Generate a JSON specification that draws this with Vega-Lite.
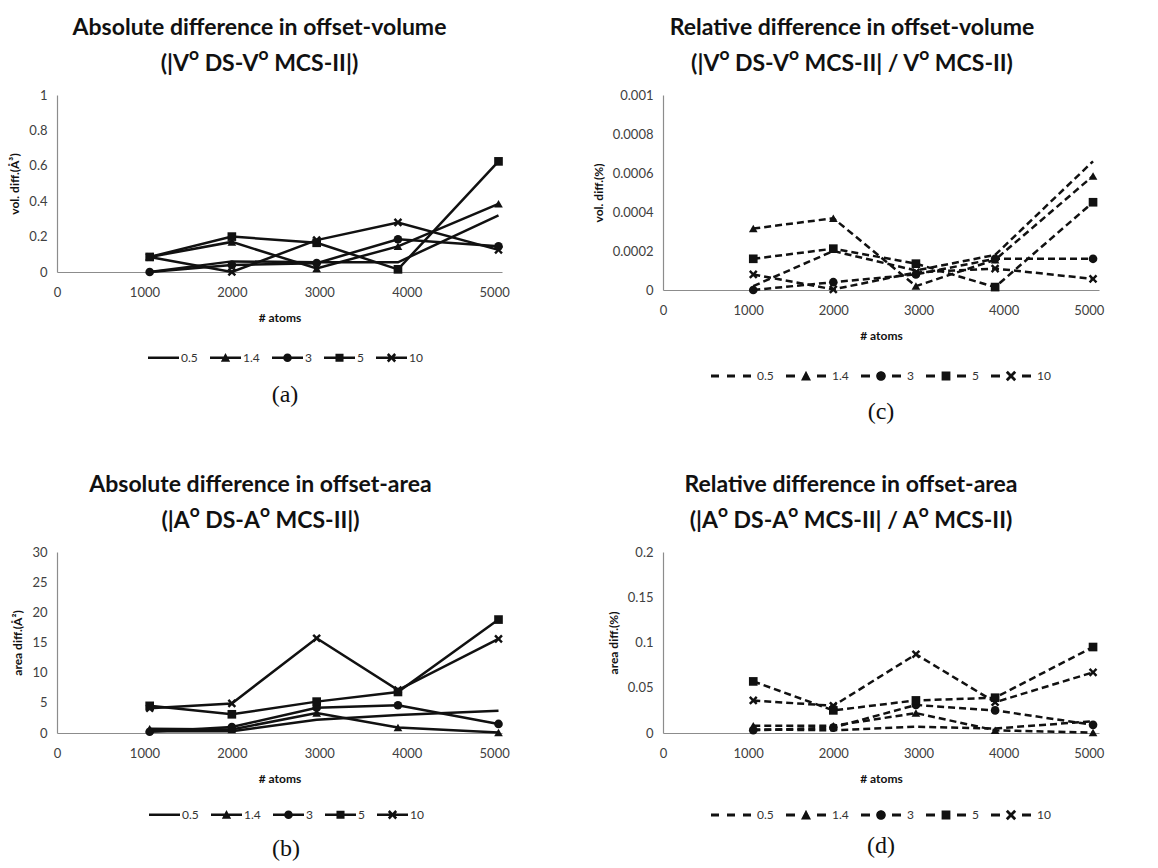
{
  "$schema": "https://vega.github.io/schema/vega-lite/v6.json",
  "padding": {"left": 8, "top": 17, "right": 5, "bottom": 5},
  "background": "white",
  "datasets": {
    "a": [
      {"n": 1060, "s": "0.5", "v": 0.0}, {"n": 2000, "s": "0.5", "v": 0.06}, {"n": 2970, "s": "0.5", "v": 0.055}, {"n": 3900, "s": "0.5", "v": 0.055}, {"n": 5050, "s": "0.5", "v": 0.32},
      {"n": 1060, "s": "1.4", "v": 0.085}, {"n": 2000, "s": "1.4", "v": 0.17}, {"n": 2970, "s": "1.4", "v": 0.02}, {"n": 3900, "s": "1.4", "v": 0.145}, {"n": 5050, "s": "1.4", "v": 0.385},
      {"n": 1060, "s": "3", "v": 0.0}, {"n": 2000, "s": "3", "v": 0.04}, {"n": 2970, "s": "3", "v": 0.05}, {"n": 3900, "s": "3", "v": 0.185}, {"n": 5050, "s": "3", "v": 0.145},
      {"n": 1060, "s": "5", "v": 0.085}, {"n": 2000, "s": "5", "v": 0.2}, {"n": 2970, "s": "5", "v": 0.165}, {"n": 3900, "s": "5", "v": 0.015}, {"n": 5050, "s": "5", "v": 0.625},
      {"n": 1060, "s": "10", "v": 0.085}, {"n": 2000, "s": "10", "v": 0.0}, {"n": 2970, "s": "10", "v": 0.18}, {"n": 3900, "s": "10", "v": 0.28}, {"n": 5050, "s": "10", "v": 0.125}
    ],
    "b": [
      {"n": 1060, "s": "0.5", "v": 0.3}, {"n": 2000, "s": "0.5", "v": 0.3}, {"n": 2970, "s": "0.5", "v": 2.2}, {"n": 3900, "s": "0.5", "v": 3.0}, {"n": 5050, "s": "0.5", "v": 3.7},
      {"n": 1060, "s": "1.4", "v": 0.7}, {"n": 2000, "s": "1.4", "v": 0.6}, {"n": 2970, "s": "1.4", "v": 3.3}, {"n": 3900, "s": "1.4", "v": 0.9}, {"n": 5050, "s": "1.4", "v": 0.1},
      {"n": 1060, "s": "3", "v": 0.2}, {"n": 2000, "s": "3", "v": 1.0}, {"n": 2970, "s": "3", "v": 4.2}, {"n": 3900, "s": "3", "v": 4.6}, {"n": 5050, "s": "3", "v": 1.5},
      {"n": 1060, "s": "5", "v": 4.5}, {"n": 2000, "s": "5", "v": 3.1}, {"n": 2970, "s": "5", "v": 5.2}, {"n": 3900, "s": "5", "v": 6.8}, {"n": 5050, "s": "5", "v": 18.8},
      {"n": 1060, "s": "10", "v": 4.1}, {"n": 2000, "s": "10", "v": 4.9}, {"n": 2970, "s": "10", "v": 15.7}, {"n": 3900, "s": "10", "v": 7.1}, {"n": 5050, "s": "10", "v": 15.6}
    ],
    "c": [
      {"n": 1060, "s": "0.5", "v": 0.00002}, {"n": 2000, "s": "0.5", "v": 0.0002}, {"n": 2970, "s": "0.5", "v": 0.0001}, {"n": 3900, "s": "0.5", "v": 0.00018}, {"n": 5050, "s": "0.5", "v": 0.00066},
      {"n": 1060, "s": "1.4", "v": 0.000315}, {"n": 2000, "s": "1.4", "v": 0.000368}, {"n": 2970, "s": "1.4", "v": 0.00002}, {"n": 3900, "s": "1.4", "v": 0.000155}, {"n": 5050, "s": "1.4", "v": 0.000585},
      {"n": 1060, "s": "3", "v": 0.0}, {"n": 2000, "s": "3", "v": 0.00004}, {"n": 2970, "s": "3", "v": 0.00008}, {"n": 3900, "s": "3", "v": 0.00016}, {"n": 5050, "s": "3", "v": 0.00016},
      {"n": 1060, "s": "5", "v": 0.00016}, {"n": 2000, "s": "5", "v": 0.000212}, {"n": 2970, "s": "5", "v": 0.000135}, {"n": 3900, "s": "5", "v": 0.000015}, {"n": 5050, "s": "5", "v": 0.00045},
      {"n": 1060, "s": "10", "v": 0.00008}, {"n": 2000, "s": "10", "v": 0.000003}, {"n": 2970, "s": "10", "v": 0.00009}, {"n": 3900, "s": "10", "v": 0.00011}, {"n": 5050, "s": "10", "v": 0.000057}
    ],
    "d": [
      {"n": 1060, "s": "0.5", "v": 0.004}, {"n": 2000, "s": "0.5", "v": 0.003}, {"n": 2970, "s": "0.5", "v": 0.007}, {"n": 3900, "s": "0.5", "v": 0.005}, {"n": 5050, "s": "0.5", "v": 0.013},
      {"n": 1060, "s": "1.4", "v": 0.008}, {"n": 2000, "s": "1.4", "v": 0.008}, {"n": 2970, "s": "1.4", "v": 0.022}, {"n": 3900, "s": "1.4", "v": 0.003}, {"n": 5050, "s": "1.4", "v": 0.0005},
      {"n": 1060, "s": "3", "v": 0.003}, {"n": 2000, "s": "3", "v": 0.006}, {"n": 2970, "s": "3", "v": 0.031}, {"n": 3900, "s": "3", "v": 0.025}, {"n": 5050, "s": "3", "v": 0.009},
      {"n": 1060, "s": "5", "v": 0.057}, {"n": 2000, "s": "5", "v": 0.025}, {"n": 2970, "s": "5", "v": 0.036}, {"n": 3900, "s": "5", "v": 0.039}, {"n": 5050, "s": "5", "v": 0.095},
      {"n": 1060, "s": "10", "v": 0.036}, {"n": 2000, "s": "10", "v": 0.03}, {"n": 2970, "s": "10", "v": 0.087}, {"n": 3900, "s": "10", "v": 0.034}, {"n": 5050, "s": "10", "v": 0.067}
    ]
  },
  "columns": 2,
  "align": "each",
  "bounds": "flush",
  "spacing": {"row": 262, "column": 161},
  "resolve": {
    "scale": {"x": "independent", "y": "independent", "shape": "independent"},
    "axis": {"x": "independent", "y": "independent"},
    "legend": {"shape": "independent"}
  },
  "concat": [
    {
      "width": 445, "height": 177,
      "title": {"text": ["Absolute difference in offset-volume", "(|Vᴼ DS-Vᴼ MCS-II|)"], "dx": -20},
      "data": {"name": "a"},
      "resolve": {"scale": {"shape": "independent"}},
      "layer": [
        {
          "mark": {"type": "line", "color": "#111", "strokeWidth": 2.5},
          "encoding": {
            "x": {"field": "n", "type": "quantitative", "scale": {"domain": [0, 5090], "nice": false}, "axis": {"values": [0, 1000, 2000, 3000, 4000, 5000], "format": "d", "title": "# atoms", "labelOverlap": false}},
            "y": {"field": "v", "type": "quantitative", "scale": {"domain": [0, 1], "nice": false}, "axis": {"values": [0, 0.2, 0.4, 0.6, 0.8, 1], "format": "~g", "title": "vol. diff.(Å³)", "labelOverlap": false, "labelLineHeight": 13}},
            "detail": {"field": "s"}
          }
        },
        {
          "transform": [{"filter": "datum.s !== '0.5'"}],
          "mark": {"type": "point", "filled": true, "opacity": 1, "color": "#111", "size": 75},
          "encoding": {
            "x": {"field": "n", "type": "quantitative", "axis": {"values": [0, 1000, 2000, 3000, 4000, 5000], "format": "d", "title": "# atoms", "labelOverlap": false}},
            "y": {"field": "v", "type": "quantitative", "axis": {"values": [0, 0.2, 0.4, 0.6, 0.8, 1], "format": "~g", "title": "vol. diff.(Å³)", "labelOverlap": false, "labelLineHeight": 13}},
            "shape": {"field": "s", "type": "nominal", "legend": null,
              "scale": {"domain": ["0.5", "1.4", "3", "5", "10"], "range": ["circle", "triangle-up", "circle", "square", "M-1,-0.6L-0.6,-1L0,-0.4L0.6,-1L1,-0.6L0.4,0L1,0.6L0.6,1L0,0.4L-0.6,1L-1,0.6L-0.4,0Z"]}}
          }
        },
        {
          "transform": [{"filter": "false"}],
          "mark": {"type": "point", "filled": true, "opacity": 1, "color": "#111", "size": 961},
          "encoding": {
            "x": {"field": "n", "type": "quantitative", "axis": {"values": [0, 1000, 2000, 3000, 4000, 5000], "format": "d", "title": "# atoms", "labelOverlap": false}},
            "y": {"field": "v", "type": "quantitative", "axis": {"values": [0, 0.2, 0.4, 0.6, 0.8, 1], "format": "~g", "title": "vol. diff.(Å³)", "labelOverlap": false, "labelLineHeight": 13}},
            "shape": {"field": "s", "type": "nominal",
              "scale": {"domain": ["0.5", "1.4", "3", "5", "10"], "range": [
                "M-1,-0.08H1V0.08H-1Z",
                "M-1,-0.08H1V0.08H-1ZM-0.3,0.26L0,-0.3L0.3,0.26Z",
                "M-1,-0.08H1V0.08H-1ZM-0.28,0A0.28,0.28 0 1,1 0.28,0A0.28,0.28 0 1,1 -0.28,0Z",
                "M-1,-0.08H1V0.08H-1ZM-0.26,-0.26H0.26V0.26H-0.26Z",
                "M-1,-0.08H1V0.08H-1ZM-0.3,-0.18L-0.18,-0.3L0,-0.12L0.18,-0.3L0.3,-0.18L0.12,0L0.3,0.18L0.18,0.3L0,0.12L-0.18,0.3L-0.3,0.18L-0.12,0Z"]},
              "legend": {"title": "(a)", "legendX": 91, "legendY": 247, "symbolSize": 961, "labelOffset": 2, "columnPadding": 12, "titlePadding": 19}
            }
          }
        }
      ]
    },
    {
      "width": 436, "height": 195,
      "title": {"text": ["Relative difference in offset-volume", "(|Vᴼ DS-Vᴼ MCS-II| / Vᴼ MCS-II)"], "dx": -29},
      "data": {"name": "c"},
      "resolve": {"scale": {"shape": "independent"}},
      "layer": [
        {
          "mark": {"type": "line", "color": "#111", "strokeWidth": 2.5, "strokeDash": [7, 4]},
          "encoding": {
            "x": {"field": "n", "type": "quantitative", "scale": {"domain": [0, 5120], "nice": false}, "axis": {"values": [0, 1000, 2000, 3000, 4000, 5000], "format": "d", "title": "# atoms", "labelOverlap": false}},
            "y": {"field": "v", "type": "quantitative", "scale": {"domain": [0, 0.001], "nice": false}, "axis": {"values": [0, 0.0002, 0.0004, 0.0006, 0.0008, 0.001], "format": "~g", "title": "vol. diff.(%)", "labelOverlap": false, "labelLineHeight": 13}},
            "detail": {"field": "s"}
          }
        },
        {
          "transform": [{"filter": "datum.s !== '0.5'"}],
          "mark": {"type": "point", "filled": true, "opacity": 1, "color": "#111", "size": 75},
          "encoding": {
            "x": {"field": "n", "type": "quantitative", "axis": {"values": [0, 1000, 2000, 3000, 4000, 5000], "format": "d", "title": "# atoms", "labelOverlap": false}},
            "y": {"field": "v", "type": "quantitative", "axis": {"values": [0, 0.0002, 0.0004, 0.0006, 0.0008, 0.001], "format": "~g", "title": "vol. diff.(%)", "labelOverlap": false, "labelLineHeight": 13}},
            "shape": {"field": "s", "type": "nominal", "legend": null,
              "scale": {"domain": ["0.5", "1.4", "3", "5", "10"], "range": ["circle", "triangle-up", "circle", "square", "M-1,-0.6L-0.6,-1L0,-0.4L0.6,-1L1,-0.6L0.4,0L1,0.6L0.6,1L0,0.4L-0.6,1L-1,0.6L-0.4,0Z"]}}
          }
        },
        {
          "transform": [{"filter": "false"}],
          "mark": {"type": "point", "filled": true, "opacity": 1, "color": "#111", "size": 1600},
          "encoding": {
            "x": {"field": "n", "type": "quantitative", "axis": {"values": [0, 1000, 2000, 3000, 4000, 5000], "format": "d", "title": "# atoms", "labelOverlap": false}},
            "y": {"field": "v", "type": "quantitative", "axis": {"values": [0, 0.0002, 0.0004, 0.0006, 0.0008, 0.001], "format": "~g", "title": "vol. diff.(%)", "labelOverlap": false, "labelLineHeight": 13}},
            "shape": {"field": "s", "type": "nominal",
              "scale": {"domain": ["0.5", "1.4", "3", "5", "10"], "range": [
                "M-1,-0.07H-0.6V0.07H-1ZM-0.2,-0.07H0.2V0.07H-0.2ZM0.6,-0.07H1V0.07H0.6Z",
                "M-1,-0.07H-0.55V0.07H-1ZM0.55,-0.07H1V0.07H0.55ZM-0.25,0.22L0,-0.26L0.25,0.22Z",
                "M-1,-0.07H-0.55V0.07H-1ZM0.55,-0.07H1V0.07H0.55ZM-0.24,0A0.24,0.24 0 1,1 0.24,0A0.24,0.24 0 1,1 -0.24,0Z",
                "M-1,-0.07H-0.55V0.07H-1ZM0.55,-0.07H1V0.07H0.55ZM-0.22,-0.22H0.22V0.22H-0.22Z",
                "M-1,-0.07H-0.55V0.07H-1ZM0.55,-0.07H1V0.07H0.55ZM-0.26,-0.16L-0.16,-0.26L0,-0.1L0.16,-0.26L0.26,-0.16L0.1,0L0.26,0.16L0.16,0.26L0,0.1L-0.16,0.26L-0.26,0.16L-0.1,0Z"]},
              "legend": {"title": "(c)", "legendX": 48, "legendY": 261, "symbolSize": 1600, "labelOffset": 6, "columnPadding": 12, "titlePadding": 18}
            }
          }
        }
      ]
    },
    {
      "width": 445, "height": 181,
      "title": {"text": ["Absolute difference in offset-area", "(|Aᴼ DS-Aᴼ MCS-II|)"], "dx": -19},
      "data": {"name": "b"},
      "resolve": {"scale": {"shape": "independent"}},
      "layer": [
        {
          "mark": {"type": "line", "color": "#111", "strokeWidth": 2.5},
          "encoding": {
            "x": {"field": "n", "type": "quantitative", "scale": {"domain": [0, 5090], "nice": false}, "axis": {"values": [0, 1000, 2000, 3000, 4000, 5000], "format": "d", "title": "# atoms", "labelOverlap": false}},
            "y": {"field": "v", "type": "quantitative", "scale": {"domain": [0, 30], "nice": false}, "axis": {"values": [0, 5, 10, 15, 20, 25, 30], "format": "~g", "title": "area diff.(Å²)", "labelOverlap": false, "labelLineHeight": 13}},
            "detail": {"field": "s"}
          }
        },
        {
          "transform": [{"filter": "datum.s !== '0.5'"}],
          "mark": {"type": "point", "filled": true, "opacity": 1, "color": "#111", "size": 75},
          "encoding": {
            "x": {"field": "n", "type": "quantitative", "axis": {"values": [0, 1000, 2000, 3000, 4000, 5000], "format": "d", "title": "# atoms", "labelOverlap": false}},
            "y": {"field": "v", "type": "quantitative", "axis": {"values": [0, 5, 10, 15, 20, 25, 30], "format": "~g", "title": "area diff.(Å²)", "labelOverlap": false, "labelLineHeight": 13}},
            "shape": {"field": "s", "type": "nominal", "legend": null,
              "scale": {"domain": ["0.5", "1.4", "3", "5", "10"], "range": ["circle", "triangle-up", "circle", "square", "M-1,-0.6L-0.6,-1L0,-0.4L0.6,-1L1,-0.6L0.4,0L1,0.6L0.6,1L0,0.4L-0.6,1L-1,0.6L-0.4,0Z"]}}
          }
        },
        {
          "transform": [{"filter": "false"}],
          "mark": {"type": "point", "filled": true, "opacity": 1, "color": "#111", "size": 961},
          "encoding": {
            "x": {"field": "n", "type": "quantitative", "axis": {"values": [0, 1000, 2000, 3000, 4000, 5000], "format": "d", "title": "# atoms", "labelOverlap": false}},
            "y": {"field": "v", "type": "quantitative", "axis": {"values": [0, 5, 10, 15, 20, 25, 30], "format": "~g", "title": "area diff.(Å²)", "labelOverlap": false, "labelLineHeight": 13}},
            "shape": {"field": "s", "type": "nominal",
              "scale": {"domain": ["0.5", "1.4", "3", "5", "10"], "range": [
                "M-1,-0.08H1V0.08H-1Z",
                "M-1,-0.08H1V0.08H-1ZM-0.3,0.26L0,-0.3L0.3,0.26Z",
                "M-1,-0.08H1V0.08H-1ZM-0.28,0A0.28,0.28 0 1,1 0.28,0A0.28,0.28 0 1,1 -0.28,0Z",
                "M-1,-0.08H1V0.08H-1ZM-0.26,-0.26H0.26V0.26H-0.26Z",
                "M-1,-0.08H1V0.08H-1ZM-0.3,-0.18L-0.18,-0.3L0,-0.12L0.18,-0.3L0.3,-0.18L0.12,0L0.3,0.18L0.18,0.3L0,0.12L-0.18,0.3L-0.3,0.18L-0.12,0Z"]},
              "legend": {"title": "(b)", "legendX": 92, "legendY": 247, "symbolSize": 961, "labelOffset": 2, "columnPadding": 12, "titlePadding": 16}
            }
          }
        }
      ]
    },
    {
      "width": 436, "height": 181,
      "title": {"text": ["Relative difference in offset-area", "(|Aᴼ DS-Aᴼ MCS-II| / Aᴼ MCS-II)"], "dx": -30},
      "data": {"name": "d"},
      "resolve": {"scale": {"shape": "independent"}},
      "layer": [
        {
          "mark": {"type": "line", "color": "#111", "strokeWidth": 2.5, "strokeDash": [7, 4]},
          "encoding": {
            "x": {"field": "n", "type": "quantitative", "scale": {"domain": [0, 5120], "nice": false}, "axis": {"values": [0, 1000, 2000, 3000, 4000, 5000], "format": "d", "title": "# atoms", "labelOverlap": false}},
            "y": {"field": "v", "type": "quantitative", "scale": {"domain": [0, 0.2], "nice": false}, "axis": {"values": [0, 0.05, 0.1, 0.15, 0.2], "format": "~g", "title": "area diff.(%)", "labelOverlap": false, "labelLineHeight": 13}},
            "detail": {"field": "s"}
          }
        },
        {
          "transform": [{"filter": "datum.s !== '0.5'"}],
          "mark": {"type": "point", "filled": true, "opacity": 1, "color": "#111", "size": 75},
          "encoding": {
            "x": {"field": "n", "type": "quantitative", "axis": {"values": [0, 1000, 2000, 3000, 4000, 5000], "format": "d", "title": "# atoms", "labelOverlap": false}},
            "y": {"field": "v", "type": "quantitative", "axis": {"values": [0, 0.05, 0.1, 0.15, 0.2], "format": "~g", "title": "area diff.(%)", "labelOverlap": false, "labelLineHeight": 13}},
            "shape": {"field": "s", "type": "nominal", "legend": null,
              "scale": {"domain": ["0.5", "1.4", "3", "5", "10"], "range": ["circle", "triangle-up", "circle", "square", "M-1,-0.6L-0.6,-1L0,-0.4L0.6,-1L1,-0.6L0.4,0L1,0.6L0.6,1L0,0.4L-0.6,1L-1,0.6L-0.4,0Z"]}}
          }
        },
        {
          "transform": [{"filter": "false"}],
          "mark": {"type": "point", "filled": true, "opacity": 1, "color": "#111", "size": 1600},
          "encoding": {
            "x": {"field": "n", "type": "quantitative", "axis": {"values": [0, 1000, 2000, 3000, 4000, 5000], "format": "d", "title": "# atoms", "labelOverlap": false}},
            "y": {"field": "v", "type": "quantitative", "axis": {"values": [0, 0.05, 0.1, 0.15, 0.2], "format": "~g", "title": "area diff.(%)", "labelOverlap": false, "labelLineHeight": 13}},
            "shape": {"field": "s", "type": "nominal",
              "scale": {"domain": ["0.5", "1.4", "3", "5", "10"], "range": [
                "M-1,-0.07H-0.6V0.07H-1ZM-0.2,-0.07H0.2V0.07H-0.2ZM0.6,-0.07H1V0.07H0.6Z",
                "M-1,-0.07H-0.55V0.07H-1ZM0.55,-0.07H1V0.07H0.55ZM-0.25,0.22L0,-0.26L0.25,0.22Z",
                "M-1,-0.07H-0.55V0.07H-1ZM0.55,-0.07H1V0.07H0.55ZM-0.24,0A0.24,0.24 0 1,1 0.24,0A0.24,0.24 0 1,1 -0.24,0Z",
                "M-1,-0.07H-0.55V0.07H-1ZM0.55,-0.07H1V0.07H0.55ZM-0.22,-0.22H0.22V0.22H-0.22Z",
                "M-1,-0.07H-0.55V0.07H-1ZM0.55,-0.07H1V0.07H0.55ZM-0.26,-0.16L-0.16,-0.26L0,-0.1L0.16,-0.26L0.26,-0.16L0.1,0L0.26,0.16L0.16,0.26L0,0.1L-0.16,0.26L-0.26,0.16L-0.1,0Z"]},
              "legend": {"title": "(d)", "legendX": 48, "legendY": 243, "symbolSize": 1600, "labelOffset": 6, "columnPadding": 12, "titlePadding": 13}
            }
          }
        }
      ]
    }
  ],
  "config": {
    "view": {"stroke": null},
    "axis": {"domainColor": "#8c8c8c", "domainWidth": 1.2, "labelFont": "Lato", "labelFontSize": 13, "labelColor": "#404040", "titleFont": "Lato", "titleFontSize": 12, "titleFontWeight": "bold", "titleColor": "#111", "grid": false, "ticks": false, "tickSize": 0, "labelFlush": false, "labelOverlap": false},
    "axisX": {"labelPadding": 14, "titlePadding": 13},
    "axisY": {"labelPadding": 10, "titlePadding": 7},
    "title": {"font": "Lato", "fontSize": 23, "fontWeight": "bold", "lineHeight": 36, "offset": 13, "anchor": "middle", "color": "#111"},
    "legend": {"orient": "none", "direction": "horizontal", "padding": 0, "labelFont": "Lato", "labelFontSize": 12, "labelColor": "#333", "titleFont": "Liberation Serif", "titleFontSize": 24, "titleFontWeight": "normal", "titleColor": "#111", "titleOrient": "bottom", "titleAnchor": "middle", "symbolStrokeWidth": 0}
  }
}
